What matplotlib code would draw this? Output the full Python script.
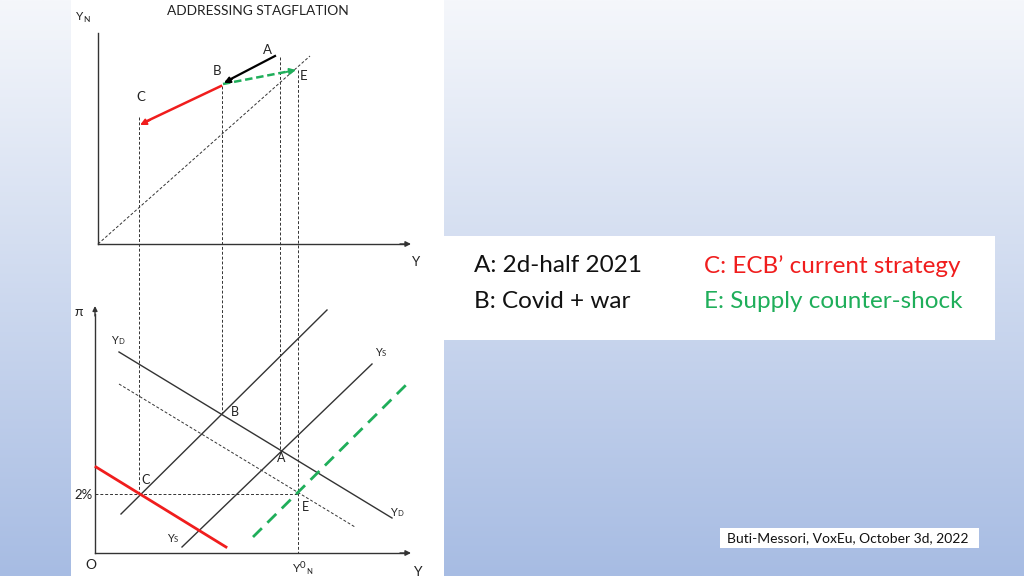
import numpy as np
import matplotlib
matplotlib.use('Agg')
import matplotlib.pyplot as plt
from matplotlib.patches import Rectangle

plt.rcParams['font.family'] = ['Lato', 'DejaVu Sans']

W, H = 1024, 576

# ---- data (diagram coordinates, horizontal = output Y shared by both panels) ----
points = ['A', 'B', 'C', 'E']
output_x = [280, 222, 139, 298]          # output level of each equilibrium
top_y = [56, 85, 124, 70]                # position in the upper (Y_N vs Y) panel
pi_y = [450, 413, 494, 494]              # inflation level in the lower panel
top_dash_start = [57, 86, 117, 70]       # where the vertical guides start in the upper panel
bottom_dash_end = [450, 413, 494, 553]   # where the vertical guides end in the lower panel

# lower panel schedules: (x0, y0, x1, y1)
yd_solid = [119, 352, 392, 518]
yd_dashed = [119, 384, 355, 527]
ys_upper = [121, 514, 327, 310]
ys_lower = [182, 547, 372, 364]
ys_green = [253, 537, 408, 383]
yd_red = [96, 467, 226, 547]

legend_left = ['A: 2d-half 2021', 'B: Covid + war']
legend_right = ['C: ECB\u2019 current strategy', 'E: Supply counter-shock']
source_text = 'Buti-Messori, VoxEu, October 3d, 2022'
title_text = 'ADDRESSING STAGFLATION'

RED = '#f01d1d'
GREEN = '#1fae5a'
AX = '#333333'

fig = plt.figure(figsize=(W / 100, H / 100), dpi=100)
ax = fig.add_axes([0, 0, 1, 1])
ax.set_xlim(0, W)
ax.set_ylim(H, 0)
ax.axis('off')

# background gradient
top_c = np.array([245, 247, 251]) / 255
bot_c = np.array([167, 188, 227]) / 255
t = np.linspace(0, 1, 256)[:, None]
grad = (top_c[None, :] * (1 - t) + bot_c[None, :] * t)[:, None, :]
grad = np.repeat(grad, 2, axis=1)
ax.imshow(grad, extent=(0, W, H, 0), aspect='auto', zorder=0)

# white panels
ax.add_patch(Rectangle((71, 0), 373, H, facecolor='white', edgecolor='none', zorder=1))
ax.add_patch(Rectangle((444, 236), 551, 104, facecolor='white', edgecolor='none', zorder=1))
ax.add_patch(Rectangle((720, 528), 259, 20, facecolor='white', edgecolor='none', zorder=1))

thin_dash = (0, (3, 2))

def arrow_head(tip, start, color, lw=1.0, ms=10):
    ax.annotate('', xy=tip, xytext=start,
                arrowprops=dict(arrowstyle='-|>', color=color, lw=lw,
                                mutation_scale=ms, shrinkA=0, shrinkB=0), zorder=6)

# ---- upper panel ----
ax.plot([98, 98], [33, 244], color=AX, lw=1.0, zorder=3)
ax.plot([98, 404], [244, 244], color=AX, lw=1.0, zorder=3)
arrow_head((411, 244), (400, 244), AX, lw=1.0, ms=8)
ax.plot([98, 310], [244, 56], color=AX, lw=0.7, ls=thin_dash, zorder=3)

ax.text(76, 17, 'Y', fontsize=8.5, color='#222', ha='left', va='center', zorder=5)
ax.text(83, 19, 'N', fontsize=6, color='#222', ha='left', va='center', zorder=5)
ax.text(416, 262, 'Y', fontsize=9.5, color='#222', ha='center', va='center', zorder=5)
ax.text(258, 11, title_text, fontsize=9.9, color='#222', ha='center', va='center', zorder=5)

# A -> B (black)
ax.plot([275, 227], [56, 81], color='black', lw=1.6, zorder=5)
arrow_head((224, 83), (232, 79), 'black', lw=1.4, ms=9)
# B -> C (red)
ax.plot([221, 145], [86, 122], color=RED, lw=1.8, zorder=5)
arrow_head((140, 125), (150, 120), RED, lw=1.4, ms=9)
# B -> E (green dashed)
ax.plot([223, 288], [84, 71.5], color=GREEN, lw=1.8, ls=(0, (3, 1.5)), zorder=5)
arrow_head((296, 70), (286, 72), GREEN, lw=1.4, ms=9)

top_labels = {'A': (267, 50), 'B': (217, 71), 'C': (141, 97), 'E': (304, 76)}
for k, (lx, ly) in top_labels.items():
    ax.text(lx, ly, k, fontsize=9.5, color='#222', ha='center', va='center', zorder=6)

# vertical guides
for x, y0, y1 in zip(output_x, top_dash_start, bottom_dash_end):
    ax.plot([x, x], [y0, y1], color=AX, lw=0.7, ls=thin_dash, zorder=3)

# ---- lower panel ----
ax.plot([95, 95], [314, 553], color=AX, lw=1.0, zorder=3)
arrow_head((95, 306), (95, 316), AX, lw=1.0, ms=7)
ax.plot([95, 404], [553, 553], color=AX, lw=1.0, zorder=3)
arrow_head((411, 553), (400, 553), AX, lw=1.0, ms=8)

ax.text(79, 312, '\u03c0', fontsize=10, color='#222', ha='center', va='center', zorder=5)
ax.text(93, 495, '2%', fontsize=9.5, color='#222', ha='right', va='center', zorder=5)
ax.text(91, 565, 'O', fontsize=10, color='#222', ha='center', va='center', zorder=5)
ax.text(417, 572, 'Y', fontsize=10, color='#222', ha='center', va='center', zorder=5)
ax.text(293, 569, 'Y', fontsize=8.5, color='#222', ha='left', va='center', zorder=5)
ax.text(300, 566, '0', fontsize=7, color='#222', ha='left', va='center', zorder=5)
ax.text(306, 571, 'N', fontsize=5.5, color='#222', ha='left', va='center', zorder=5)

# 2% horizontal guide
ax.plot([95, 299], [494, 494], color=AX, lw=0.7, ls=thin_dash, zorder=3)

for seg in (yd_solid, ys_upper, ys_lower):
    ax.plot([seg[0], seg[2]], [seg[1], seg[3]], color=AX, lw=1.0, zorder=4)
ax.plot([yd_dashed[0], yd_dashed[2]], [yd_dashed[1], yd_dashed[3]],
        color=AX, lw=0.7, ls=thin_dash, zorder=4)
ax.plot([ys_green[0], ys_green[2]], [ys_green[1], ys_green[3]],
        color=GREEN, lw=2.0, ls=(0, (4.5, 2.8)), zorder=4)
ax.plot([yd_red[0], yd_red[2]], [yd_red[1], yd_red[3]], color=RED, lw=2.0, zorder=4)

def sub_label(x, y, main, sub):
    ax.text(x, y, main, fontsize=8, color='#222', ha='left', va='center', zorder=6)
    ax.text(x + 7, y + 1, sub, fontsize=5.5, color='#222', ha='left', va='center', zorder=6)

sub_label(111, 341, 'Y', 'D')
sub_label(390, 512, 'Y', 'D')
sub_label(375, 352, 'Y', 'S')
sub_label(167, 538, 'Y', 'S')

bottom_labels = {'B': (235, 412), 'A': (281, 458), 'C': (146, 480), 'E': (305, 507)}
for k, (lx, ly) in bottom_labels.items():
    ax.text(lx, ly, k, fontsize=9, color='#222', ha='center', va='center', zorder=6)

# ---- legend box ----
ax.text(474, 266, legend_left[0], fontsize=17.5, color='#111', ha='left', va='center', zorder=6)
ax.text(474, 302, legend_left[1], fontsize=17.5, color='#111', ha='left', va='center', zorder=6)
ax.text(704, 266, legend_right[0], fontsize=17.5, color=RED, ha='left', va='center', zorder=6)
ax.text(704, 302, legend_right[1], fontsize=17.5, color=GREEN, ha='left', va='center', zorder=6)

# ---- source ----
ax.text(727, 538, source_text, fontsize=10, color='#111', ha='left', va='center', zorder=6)

fig.savefig('out.png', dpi=100)
